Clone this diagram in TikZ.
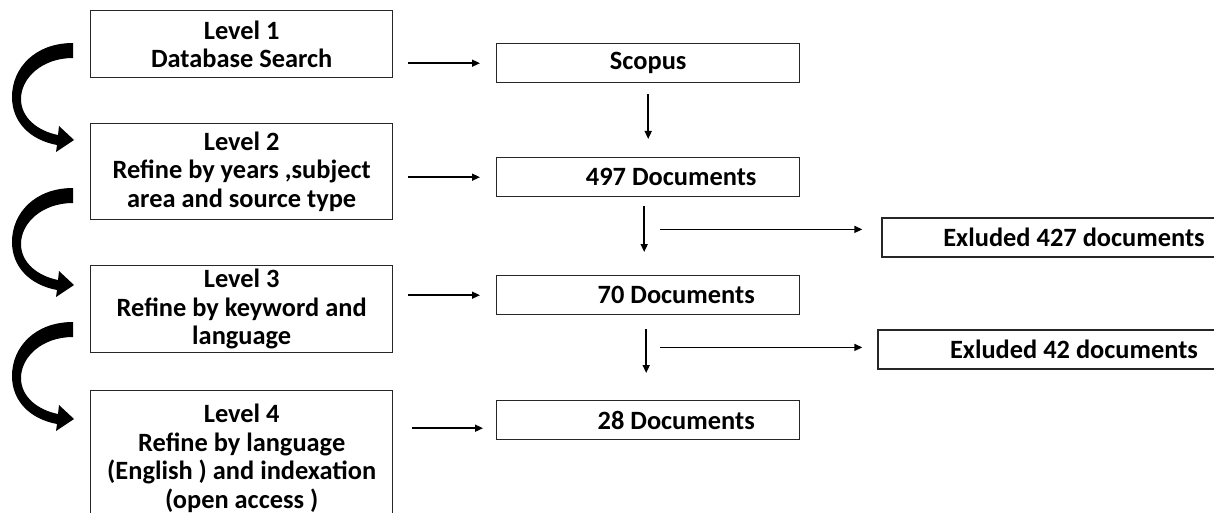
\documentclass[tikz,border=0pt]{standalone}
\usepackage{fontspec}
\setmainfont{Carlito}
\usetikzlibrary{arrows.meta,calc}
\begin{document}
\begin{tikzpicture}[x=1pt,y=-1pt,
  box/.style={draw=black!85, line width=1.4pt, inner sep=0pt, align=center,
    font=\fontsize{26.4}{28.5}\selectfont\bfseries, text=black},
  stage/.style={box, minimum width=302pt, anchor=north west},
  result/.style={box, minimum width=303pt, minimum height=39pt, anchor=north west},
  flow/.style={line width=1.5pt, -{Triangle[length=8pt,width=7pt]}},
  turn/.pic={
    \fill (73,43) .. controls (35,43) and (12,68) .. (12,97)
      .. controls (12,122) and (30,140) .. (57,145)
      -- (56,152) -- (74,140) -- (59,126) -- (58,135)
      .. controls (38,131) and (21,118) .. (21,99)
      .. controls (21,78) and (42,58) .. (73,58) -- cycle;
  }]
\useasboundingbox (0,0) rectangle (1214,513);

% stages on the left
\node[stage, minimum height=67pt]  (b1) at (90,10)  {Level 1\\Database Search};
\node[stage, minimum height=96pt]  (b2) at (90,123) {Level 2\\Refine by years ,subject\\area and source type};
\node[stage, minimum height=87pt]  (b3) at (90,265) {Level 3\\Refine by keyword and\\language};
\node[stage, minimum height=135pt] (b4) at (90,390) {Level 4\\Refine by language\\(English ) and indexation\\(open access )};

% curved arrows between stages
\pic at (0,0)   {turn};
\pic at (0,145) {turn};
\pic at (0,279) {turn};

% results
\node[result] (sc)   at (496,43)  {Scopus};
\node[result] (d497) at (496,157) {\hspace*{46pt}497 Documents};
\node[result] (d70)  at (496,275) {\hspace*{56pt}70 Documents};
\node[result] (d28)  at (496,400) {\hspace*{56pt}28 Documents};

% exclusions
\node[box, minimum width=384pt, minimum height=39pt] (ex1) at (1074,237.5) {Exluded 427 documents};
\node[box, minimum width=392pt, minimum height=39pt] (ex2) at (1074,349.5) {Exluded 42 documents};

% branch points of the exclusion arrows
\coordinate (x1) at ($(d497.south)+(12,32)$);
\coordinate (x2) at ($(d70.south)+(12,32)$);

% stage -> result
\draw[flow] ([xshift=15pt]b1.east |- sc.west) -- ([xshift=-16pt]sc.west);
\draw[flow] ([xshift=15pt]b2.east |- d497.west) -- ([xshift=-16pt]d497.west);
\draw[flow] ([xshift=15pt]b3.east |- d70.west) -- ([xshift=-16pt]d70.west);
\draw[flow] ($(b4.east |- d28.west)+(19,8)$) -- ($(d28.west)+(-13,8)$);

% result -> result
\draw[flow] ($(sc.south)+(0,11)$) -- ($(d497.north)+(0,-18)$);
\draw[flow] ($(d497.south)+(-4,9)$) -- ($(d70.north)+(-4,-23)$);
\draw[flow] ($(d70.south)+(-2,14)$) -- ($(d28.north)+(-2,-27)$);

% result -> exclusion
\draw[flow] (x1) -- ([xshift=-19pt]ex1.west |- x1);
\draw[flow] (x2) -- ([xshift=-15pt]ex2.west |- x2);
\end{tikzpicture}
\end{document}
